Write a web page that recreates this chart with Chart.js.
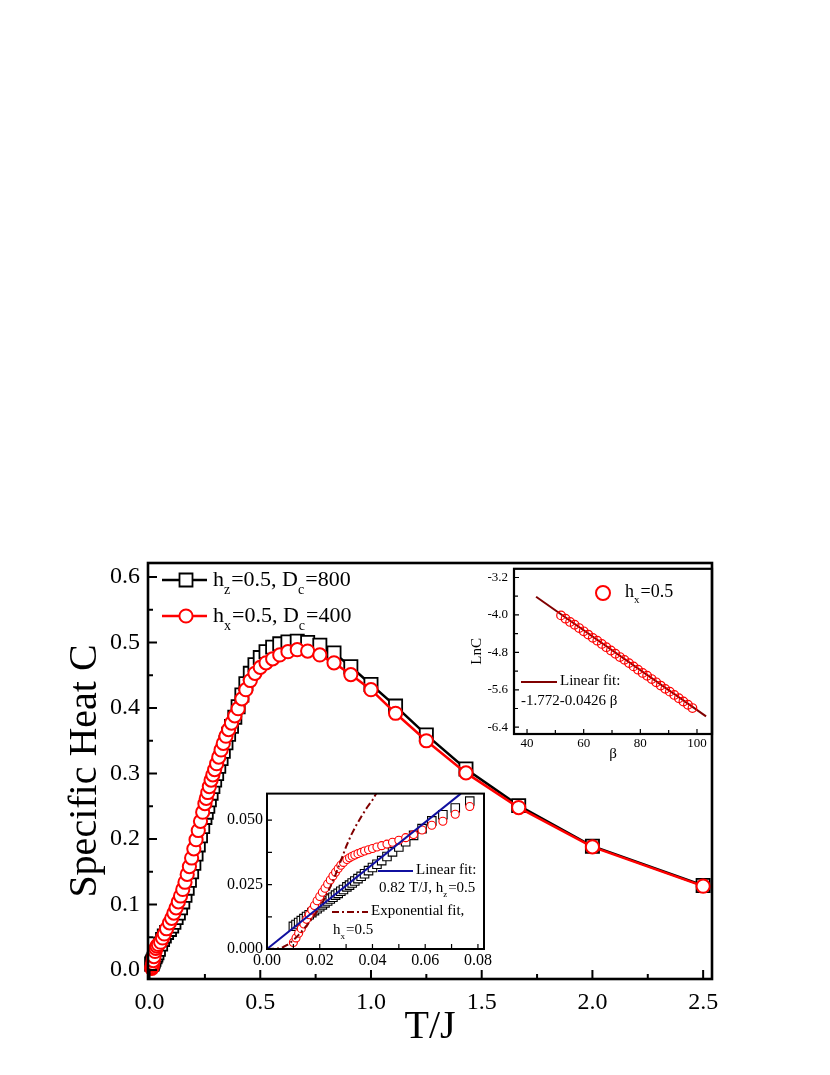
<!DOCTYPE html>
<html>
<head>
<meta charset="utf-8">
<script src="https://cdn.jsdelivr.net/npm/chart.js@4.4.0/dist/chart.umd.min.js"></script>
<style>
html, body { margin: 0; padding: 0; background: #fff; }
#wrap { position: relative; width: 830px; height: 1075px; }
canvas { position: absolute; }
#main { left: 0; top: 0; }
#upper { left: 440px; top: 555px; }
#lower { left: 215px; top: 780px; }
</style>
</head>
<body>
<div id="wrap">
  <canvas id="main" width="830" height="1075"></canvas>
  <canvas id="upper" width="290" height="215"></canvas>
  <canvas id="lower" width="290" height="200"></canvas>
</div>
<script>
// ---- main panel data (T/J vs specific heat) ----
const mainT = [0.01, 0.0111, 0.0125, 0.0143, 0.0167, 0.02, 0.025, 0.0286, 0.0333, 0.04, 0.05, 0.0588, 0.0667, 0.0769,
    0.09, 0.10, 0.11, 0.12, 0.13, 0.14, 0.15, 0.16, 0.17, 0.18, 0.19, 0.20, 0.21, 0.22, 0.23, 0.24, 0.25,
    0.256, 0.263, 0.27, 0.278, 0.286, 0.294, 0.303, 0.3125, 0.323, 0.333, 0.345, 0.357, 0.37, 0.385, 0.4, 0.417, 0.435, 0.455, 0.476, 0.5,
    0.526, 0.556, 0.588, 0.625, 0.667, 0.714, 0.769, 0.833, 0.909, 1.0, 1.111, 1.25, 1.429, 1.667, 2.0, 2.5];
const mainHz = [0.0088, 0.0096, 0.0107, 0.0121, 0.0139, 0.0164, 0.0201, 0.0228, 0.0264, 0.0316, 0.0396, 0.0467, 0.0521, 0.0574,
    0.062, 0.067, 0.073, 0.08, 0.087, 0.095, 0.104, 0.114, 0.125, 0.137, 0.15, 0.163, 0.177, 0.191, 0.205, 0.219, 0.233,
    0.241, 0.25, 0.26, 0.27, 0.28, 0.29, 0.3, 0.311, 0.323, 0.334, 0.347, 0.36, 0.372, 0.386, 0.402, 0.42, 0.437, 0.453, 0.466, 0.477,
    0.486, 0.493, 0.498, 0.501, 0.502, 0.5, 0.496, 0.484, 0.463, 0.436, 0.403, 0.359, 0.307, 0.251, 0.189, 0.129];
const mainHx = [0.0025, 0.0045, 0.007, 0.0102, 0.0145, 0.0204, 0.0283, 0.033, 0.0365, 0.039, 0.0425, 0.049, 0.055, 0.063,
    0.072, 0.079, 0.087, 0.095, 0.104, 0.113, 0.123, 0.134, 0.146, 0.158, 0.171, 0.185, 0.199, 0.213, 0.227, 0.241, 0.254,
    0.262, 0.271, 0.28, 0.29, 0.298, 0.306, 0.315, 0.325, 0.336, 0.346, 0.357, 0.367, 0.377, 0.388, 0.399, 0.414, 0.428, 0.442, 0.453, 0.462,
    0.469, 0.475, 0.481, 0.486, 0.489, 0.487, 0.481, 0.469, 0.451, 0.428, 0.392, 0.35, 0.301, 0.248, 0.188, 0.128];
const mainXTicks = [0, 0.5, 1.0, 1.5, 2.0, 2.5];
const mainXMinor = [0.25, 0.75, 1.25, 1.75, 2.25];
const mainYTicks = [0, 0.1, 0.2, 0.3, 0.4, 0.5, 0.6];
const mainYMinor = [0.05, 0.15, 0.25, 0.35, 0.45, 0.55];

// ---- lower inset (low temperature) ----
const lowT = [0.010, 0.011, 0.012, 0.013, 0.014, 0.015, 0.016, 0.017, 0.018, 0.019, 0.020, 0.021, 0.022, 0.023, 0.024, 0.025, 0.026, 0.027, 0.028, 0.029,
    0.0303, 0.0313, 0.0323, 0.0333, 0.0345, 0.0357, 0.037, 0.0385, 0.04, 0.0417, 0.0435, 0.0455, 0.0476, 0.05, 0.0526, 0.0556, 0.0588, 0.0625, 0.0667, 0.0714, 0.0769];
const lowHz = [0.0088, 0.0095, 0.0103, 0.011, 0.0118, 0.0126, 0.0133, 0.0141, 0.0149, 0.0156, 0.0164, 0.0171, 0.0179, 0.0186, 0.0194, 0.0201, 0.0209, 0.0216, 0.0224, 0.0231,
    0.0241, 0.0248, 0.0256, 0.0264, 0.0273, 0.0282, 0.0292, 0.0304, 0.0316, 0.0329, 0.0343, 0.0359, 0.0377, 0.0396, 0.0416, 0.0441, 0.0467, 0.0497, 0.0521, 0.0547, 0.0574];
const lowHx = [0.0025, 0.0043, 0.0061, 0.0079, 0.0097, 0.0115, 0.0133, 0.0151, 0.0169, 0.0187, 0.0204, 0.022, 0.0236, 0.0252, 0.0268, 0.0283, 0.0298, 0.0312, 0.0325, 0.0336,
    0.0347, 0.0354, 0.036, 0.0365, 0.037, 0.0375, 0.038, 0.0385, 0.039, 0.0396, 0.0401, 0.0407, 0.0414, 0.0422, 0.0432, 0.0444, 0.0462, 0.048, 0.0496, 0.0523, 0.0553];
const linFitT = [0, 0.0735];
const linFitC = [0, 0.0603];
const expFitT = [0, 0.004, 0.006, 0.008, 0.010, 0.012, 0.014, 0.016, 0.018, 0.020, 0.022, 0.024, 0.026, 0.028, 0.030, 0.032, 0.034, 0.036, 0.038, 0.040, 0.0414];
const expFitC = [0, 0.0002, 0.0007, 0.0018, 0.0034, 0.0055, 0.0078, 0.0103, 0.013, 0.0163, 0.0198, 0.0241, 0.0289, 0.0342, 0.0397, 0.0444, 0.0483, 0.0518, 0.055, 0.0578, 0.0603];
const lowXTicks = [0, 0.02, 0.04, 0.06, 0.08];
const lowXMinor = [0.01, 0.03, 0.05, 0.07];
const lowYTicks = [0, 0.025, 0.05];
const lowYMinor = [0.0125, 0.0375];

// ---- upper inset (LnC vs beta) ----
const betaPts = [52.0, 53.6, 55.2, 56.8, 58.4, 60.0, 61.6, 63.2, 64.8, 66.4, 68.0, 69.6, 71.2, 72.8, 74.4,
    76.0, 77.6, 79.2, 80.8, 82.4, 84.0, 85.6, 87.2, 88.8, 90.4, 92.0, 93.6, 95.2, 96.8, 98.4];
const lnCPts = [-4.01, -4.08, -4.15, -4.21, -4.28, -4.35, -4.42, -4.49, -4.55, -4.62, -4.69, -4.76, -4.83, -4.90, -4.96,
    -5.03, -5.10, -5.17, -5.24, -5.30, -5.37, -5.44, -5.51, -5.58, -5.64, -5.71, -5.78, -5.85, -5.92, -5.99];
const fitBeta = [43.2, 103.2];
const fitLnC = [-3.612, -6.168];
const upXTicks = [40, 60, 80, 100];
const upXMinor = [50, 70, 90];
const upYTicks = [-3.2, -4.0, -4.8, -5.6, -6.4];
const upYMinor = [-3.6, -4.4, -5.2, -6.0];

const SERIF = '"Liberation Serif", "Times New Roman", serif';
const RED = '#ff0000';
const DARKRED = '#800000';
const BLUE = '#1010a0';

Chart.defaults.font.family = SERIF;
Chart.defaults.color = '#000';

const pts = (xs, ys) => xs.map((x, i) => ({ x: x, y: ys[i] }));

// text with subscripts: parts = [[text, isSub], ...]
function drawParts(ctx, x, y, size, parts) {
    let cx = x;
    ctx.textBaseline = 'middle';
    ctx.textAlign = 'left';
    ctx.fillStyle = '#000';
    parts.forEach(([txt, sub]) => {
        const fs = sub ? Math.round(size * 0.62) : size;
        ctx.font = fs + 'px ' + SERIF;
        ctx.fillText(txt, cx, sub ? y + size * 0.45 : y);
        cx += ctx.measureText(txt).width + (sub ? 1 : 0);
    });
}

// box frame + inward ticks on left and bottom
const frameTicks = {
    id: 'frameTicks',
    afterDraw(chart, args, o) {
        const { ctx, chartArea: a, scales: { x, y } } = chart;
        ctx.save();
        ctx.strokeStyle = '#000';
        ctx.lineWidth = o.tickWidth;
        ctx.beginPath();
        const xt = (vals, len) => vals.forEach(v => {
            const p = x.getPixelForValue(v);
            ctx.moveTo(p, a.bottom); ctx.lineTo(p, a.bottom - len);
        });
        const yt = (vals, len) => vals.forEach(v => {
            const p = y.getPixelForValue(v);
            ctx.moveTo(a.left, p); ctx.lineTo(a.left + len, p);
        });
        xt(o.xMajor, o.major); xt(o.xMinor, o.minor);
        yt(o.yMajor, o.major); yt(o.yMinor, o.minor);
        ctx.stroke();
        ctx.lineWidth = o.frame;
        ctx.strokeRect(a.left, a.top, a.right - a.left, a.bottom - a.top);
        ctx.restore();
    }
};

// hand-made legend (needs subscripts)
const keyPlugin = {
    id: 'keyPlugin',
    afterDraw(chart, args, o) {
        const ctx = chart.ctx;
        ctx.save();
        (o.lines || []).forEach(l => {
            ctx.strokeStyle = l.color;
            ctx.lineWidth = l.width;
            ctx.setLineDash(l.dash || []);
            ctx.beginPath();
            ctx.moveTo(l.x1, l.y); ctx.lineTo(l.x2, l.y);
            ctx.stroke();
        });
        ctx.setLineDash([]);
        (o.marks || []).forEach(m => {
            ctx.strokeStyle = m.color;
            ctx.lineWidth = m.width;
            ctx.fillStyle = '#fff';
            ctx.beginPath();
            if (m.type === 'rect') ctx.rect(m.x - m.r, m.y - m.r, 2 * m.r, 2 * m.r);
            else ctx.arc(m.x, m.y, m.r, 0, Math.PI * 2);
            ctx.fill();
            ctx.stroke();
        });
        (o.texts || []).forEach(t => drawParts(ctx, t.x, t.y, t.size, t.parts));
        ctx.restore();
    }
};

function linScale(min, max, ticks, digits, size, pad, fit, title) {
    return {
        type: 'linear',
        min: min,
        max: max,
        grid: { display: false, drawTicks: false },
        border: { display: false },
        afterBuildTicks: s => { s.ticks = ticks.map(v => ({ value: v })); },
        afterFit: fit,
        ticks: {
            autoSkip: false,
            maxRotation: 0,
            padding: pad,
            color: '#000',
            font: { size: size },
            callback: v => Number(v).toFixed(digits)
        },
        title: title || { display: false }
    };
}

const base = {
    responsive: false,
    animation: false,
    devicePixelRatio: 1,
    events: []
};

// ---------- main chart ----------
new Chart(document.getElementById('main'), {
    type: 'scatter',
    data: {
        datasets: [
            {
                data: pts(mainT, mainHx), order: 1, showLine: true, clip: false,
                borderColor: RED, borderWidth: 2.5,
                pointStyle: 'circle', pointRadius: 6.6, pointBorderWidth: 2, pointBorderColor: RED, pointBackgroundColor: '#fff'
            },
            {
                data: pts(mainT, mainHz), order: 2, showLine: true, clip: false,
                borderColor: '#000', borderWidth: 2.5,
                pointStyle: 'rect', pointRadius: 9.3, pointBorderWidth: 1.8, pointBorderColor: '#000', pointBackgroundColor: '#fff'
            }
        ]
    },
    options: Object.assign({}, base, {
        layout: { padding: { left: 0, top: 563, right: 118, bottom: 0 } },
        scales: {
            x: linScale(-0.007, 2.54, mainXTicks, 1, 24, 9, s => { s.height = 96; },
                { display: true, text: 'T/J', font: { size: 40 }, padding: { bottom: 24 } }),
            y: linScale(-0.0137, 0.6214, mainYTicks, 1, 24, 8, s => { s.width = 148; },
                { display: true, text: 'Specific Heat C', font: { size: 40 }, padding: { top: 61 } })
        },
        plugins: {
            legend: { display: false },
            tooltip: { enabled: false },
            frameTicks: { xMajor: mainXTicks, xMinor: mainXMinor, yMajor: mainYTicks, yMinor: mainYMinor, major: 9, minor: 5, tickWidth: 2, frame: 2.6 },
            keyPlugin: {
                lines: [
                    { x1: 162, x2: 207, y: 580, color: '#000', width: 2.5 },
                    { x1: 162, x2: 207, y: 616, color: RED, width: 2.5 }
                ],
                marks: [
                    { type: 'rect', x: 186, y: 580, r: 6.5, color: '#000', width: 1.8 },
                    { type: 'circle', x: 186, y: 616, r: 6.6, color: RED, width: 2 }
                ],
                texts: [
                    { x: 213, y: 580, size: 22, parts: [['h'], ['z', 1], ['=0.5, D'], ['c', 1], ['=800']] },
                    { x: 213, y: 616, size: 22, parts: [['h'], ['x', 1], ['=0.5, D'], ['c', 1], ['=400']] }
                ]
            }
        }
    }),
    plugins: [frameTicks, keyPlugin]
});

// ---------- upper inset ----------
new Chart(document.getElementById('upper'), {
    type: 'scatter',
    data: {
        datasets: [
            {
                data: pts(betaPts, lnCPts), order: 1, showLine: false,
                pointStyle: 'circle', pointRadius: 4.3, pointBorderWidth: 1.2, pointBorderColor: RED, pointBackgroundColor: 'rgba(255,255,255,0)'
            },
            {
                data: pts(fitBeta, fitLnC), order: 2, showLine: true,
                borderColor: DARKRED, borderWidth: 2, pointRadius: 0
            }
        ]
    },
    options: Object.assign({}, base, {
        layout: { padding: { left: 0, top: 8, right: 18, bottom: 0 } },
        scales: {
            x: linScale(35.4, 105.3, upXTicks, 0, 13, 2, s => { s.height = 36; },
                { display: true, text: 'β', font: { size: 15 }, padding: { bottom: 7 } }),
            y: linScale(-6.545, -3.014, upYTicks, 1, 13, 6, s => { s.width = 74; },
                { display: true, text: 'LnC', font: { size: 15 }, padding: { top: 28 } })
        },
        plugins: {
            legend: { display: false },
            tooltip: { enabled: false },
            frameTicks: { xMajor: upXTicks, xMinor: upXMinor, yMajor: upYTicks, yMinor: upYMinor, major: 5, minor: 4, tickWidth: 1.2, frame: 2.2 },
            keyPlugin: {
                lines: [{ x1: 81, x2: 117, y: 127, color: DARKRED, width: 2 }],
                marks: [{ type: 'circle', x: 163, y: 38, r: 7, color: RED, width: 2 }],
                texts: [
                    { x: 185, y: 37, size: 18, parts: [['h'], ['x', 1], ['=0.5']] },
                    { x: 120, y: 126, size: 15, parts: [['Linear fit:']] },
                    { x: 81, y: 146, size: 15, parts: [['-1.772-0.0426 β']] }
                ]
            }
        }
    }),
    plugins: [frameTicks, keyPlugin]
});

// ---------- lower inset ----------
new Chart(document.getElementById('lower'), {
    type: 'scatter',
    data: {
        datasets: [
            {
                data: pts(linFitT, linFitC), order: 0, showLine: true,
                borderColor: BLUE, borderWidth: 2, pointRadius: 0
            },
            {
                data: pts(expFitT, expFitC), order: 1, showLine: true,
                borderColor: DARKRED, borderWidth: 2, borderDash: [7, 3, 2, 3], pointRadius: 0
            },
            {
                data: pts(lowT, lowHx), order: 2, showLine: false,
                pointStyle: 'circle', pointRadius: 4, pointBorderWidth: 1.1, pointBorderColor: RED, pointBackgroundColor: '#fff'
            },
            {
                data: pts(lowT, lowHz), order: 3, showLine: false,
                pointStyle: 'rect', pointRadius: 6, pointBorderWidth: 1.1, pointBorderColor: '#000', pointBackgroundColor: '#fff'
            }
        ]
    },
    options: Object.assign({}, base, {
        layout: { padding: { left: 0, top: 11, right: 21, bottom: 0 } },
        scales: {
            x: linScale(0, 0.0823, lowXTicks, 2, 16, 2, s => { s.height = 31; }),
            y: linScale(0, 0.0603, lowYTicks, 3, 16, 4, s => { s.width = 52; })
        },
        plugins: {
            legend: { display: false },
            tooltip: { enabled: false },
            frameTicks: { xMajor: lowXTicks, xMinor: lowXMinor, yMajor: lowYTicks, yMinor: lowYMinor, major: 5, minor: 5, tickWidth: 1.2, frame: 2 },
            keyPlugin: {
                lines: [
                    { x1: 163, x2: 198, y: 91, color: BLUE, width: 2 },
                    { x1: 117, x2: 153, y: 132, color: DARKRED, width: 2, dash: [7, 3, 2, 3] }
                ],
                texts: [
                    { x: 201, y: 90, size: 15, parts: [['Linear fit:']] },
                    { x: 164, y: 108, size: 15, parts: [['0.82 T/J, h'], ['z', 1], ['=0.5']] },
                    { x: 156, y: 131, size: 15, parts: [['Exponential fit,']] },
                    { x: 118, y: 150, size: 15, parts: [['h'], ['x', 1], ['=0.5']] }
                ]
            }
        }
    }),
    plugins: [frameTicks, keyPlugin]
});
</script>
</body>
</html>
